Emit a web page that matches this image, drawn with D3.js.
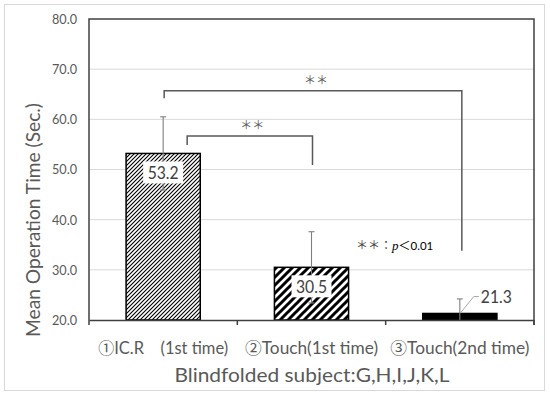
<!DOCTYPE html>
<html><head><meta charset="utf-8">
<script src="https://cdn.jsdelivr.net/npm/d3@7"></script>
<style>
body{margin:0;background:#fff;}
svg{display:block;font-family:Lato,"Noto Sans CJK JP",sans-serif;}
</style></head>
<body><svg id="c" width="550" height="396"></svg>
<script>
const circled = ["①", "②", "③"];
const categories = ["IC.R\u3000(1st time)", "Touch(1st time)", "Touch(2nd time)"];
const means = [53.2, 30.5, 21.3];
const errors = [7.3, 7.1, 2.9];
const patterns = ["thin", "wide", "solid"];
const yTicks = [20, 30, 40, 50, 60, 70, 80];
const brackets = [
  {from: 0, to: 2, fromOffset: 1, toOffset: 2, top: 65.7, leftEnd: 64.2, rightEnd: 33.8, label: "＊＊", labelAt: 0.51},
  {from: 0, to: 1, fromOffset: 24, toOffset: 1, top: 56.7, leftEnd: 54.9, rightEnd: 50.9, label: "＊＊", labelAt: 0.52}
];
const yTitle = "Mean Operation Time (Sec.)";
const xTitle = "Blindfolded subject:G,H,I,J,K,L";

const svg = d3.select("#c");
const M = {l: 89, r: 534, t: 19, b: 320};
const x = d3.scaleBand().domain(categories).range([M.l, M.r]);
const y = d3.scaleLinear().domain([20, 80]).range([M.b, M.t]);
const bw = x.bandwidth() * 0.5;
const cx = i => x(categories[i]) + x.bandwidth() / 2;
const fit = (sel, w) => sel.attr("textLength", w).attr("lengthAdjust", "spacingAndGlyphs");

// outer frame
svg.append("rect").attr("x", 4.5).attr("y", 4.5).attr("width", 540).attr("height", 386)
  .attr("fill", "#fff").attr("stroke", "#d9d9d9").attr("stroke-width", 1);

// patterns
const defs = svg.append("defs");
const p1 = defs.append("pattern").attr("id", "thin").attr("patternUnits", "userSpaceOnUse")
  .attr("width", 4).attr("height", 4);
p1.append("rect").attr("width", 4).attr("height", 4).attr("fill", "#fff");
p1.append("path").attr("d", "M-1,1 l2,-2 M0,4 l4,-4 M3,5 l2,-2").attr("stroke", "#000").attr("stroke-width", 1.1);
const p2 = defs.append("pattern").attr("id", "wide").attr("patternUnits", "userSpaceOnUse")
  .attr("width", 8).attr("height", 8);
p2.append("rect").attr("width", 8).attr("height", 8).attr("fill", "#fff");
p2.append("path").attr("d", "M-2,2 l4,-4 M0,8 l8,-8 M6,10 l4,-4").attr("stroke", "#000").attr("stroke-width", 3);

// gridlines
svg.append("g").selectAll("line").data(yTicks.filter(t => t > 20 && t < 80)).join("line")
  .attr("x1", M.l).attr("x2", M.r).attr("y1", d => y(d)).attr("y2", d => y(d))
  .attr("stroke", "#d9d9d9").attr("stroke-width", 1);

// y axis labels
const ya = svg.append("g").attr("transform", `translate(${M.l},0)`)
  .call(d3.axisLeft(y).tickValues(yTicks).tickFormat(d3.format(".1f")).tickSize(0).tickPadding(12));
ya.select(".domain").remove();
ya.selectAll("text").attr("font-size", 14).attr("fill", "#595959").attr("font-family", "Lato")
  .attr("textLength", 25).attr("lengthAdjust", "spacingAndGlyphs");

// bars
svg.append("g").selectAll("rect").data(means).join("rect")
  .attr("x", (d, i) => cx(i) - bw / 2).attr("width", bw)
  .attr("y", d => y(d)).attr("height", d => y(20) - y(d))
  .attr("fill", (d, i) => patterns[i] === "solid" ? "#000" : `url(#${patterns[i]})`)
  .attr("stroke", "#000").attr("stroke-width", 1.5);

// error bars
const eb = svg.append("g").attr("stroke", "#7f7f7f").attr("stroke-width", 1.1);
means.forEach((m, i) => {
  const lo = Math.max(20, m - errors[i]), hi = m + errors[i];
  eb.append("line").attr("x1", cx(i)).attr("x2", cx(i)).attr("y1", y(lo)).attr("y2", y(hi));
  eb.append("line").attr("x1", cx(i) - 3).attr("x2", cx(i) + 3).attr("y1", y(hi)).attr("y2", y(hi));
  if (m - errors[i] > 20)
    eb.append("line").attr("x1", cx(i) - 3).attr("x2", cx(i) + 3).attr("y1", y(lo)).attr("y2", y(lo));
});

// plot border
svg.append("path")
  .attr("d", `M${M.l},${M.b + 5} V${M.t} H${M.r} V${M.b + 5}`)
  .attr("fill", "none").attr("stroke", "#404040").attr("stroke-width", 1.5);
const xa = svg.append("g").attr("transform", `translate(0,${M.b})`)
  .call(d3.axisBottom(x).tickSize(0).tickFormat(""));
xa.select(".domain").attr("stroke", "#404040").attr("stroke-width", 1.5);
svg.append("g").selectAll("line").data(categories).join("line")
  .attr("x1", d => x(d) + x.bandwidth()).attr("x2", d => x(d) + x.bandwidth())
  .attr("y1", M.b).attr("y2", M.b + 5).attr("stroke", "#404040").attr("stroke-width", 1.5);

// data labels
means.forEach((m, i) => {
  if (i < 2) {
    const ty = y(m) + 19;
    svg.append("rect").attr("x", cx(i) - 20).attr("y", ty - 11).attr("width", 40).attr("height", 22).attr("fill", "#fff");
    fit(svg.append("text").attr("x", cx(i)).attr("y", ty).attr("dy", "0.35em").attr("text-anchor", "middle")
      .attr("font-size", 18).attr("fill", "#404040").text(m.toFixed(1)), 31);
  } else {
    const ty = y(m) - 17;
    svg.append("path").attr("d", `M${cx(i) + 1},${y(m) - 1} L${cx(i) + 14},${ty} H${cx(i) + 19}`)
      .attr("fill", "none").attr("stroke", "#a6a6a6").attr("stroke-width", 1);
    fit(svg.append("text").attr("x", cx(i) + 21).attr("y", ty).attr("dy", "0.35em")
      .attr("font-size", 18).attr("fill", "#404040").text(m.toFixed(1)), 31);
  }
});

// significance brackets
const bg = svg.append("g");
brackets.forEach(b => {
  const x1 = cx(b.from) + b.fromOffset, x2 = cx(b.to) + b.toOffset;
  bg.append("path").attr("d", `M${x1},${y(b.leftEnd)} V${y(b.top)} H${x2} V${y(b.rightEnd)}`)
    .attr("fill", "none").attr("stroke", "#595959").attr("stroke-width", 1.5);
  bg.append("text").attr("x", x1 + (x2 - x1) * b.labelAt).attr("y", y(b.top) - 6)
    .attr("text-anchor", "middle").attr("font-size", 12).attr("fill", "#595959")
    .attr("font-family", "'Noto Sans CJK JP'").text(b.label);
});

// p legend
const lg = svg.append("text").attr("x", 356).attr("y", 250).attr("font-size", 12).attr("fill", "#000");
lg.append("tspan").attr("font-family", "'Noto Sans CJK JP'").attr("fill", "#404040").text("＊＊：");
lg.append("tspan").attr("font-style", "italic").attr("font-family", "'Liberation Serif'").attr("font-size", 13).text("p");
lg.append("tspan").attr("font-family", "'Noto Sans CJK JP'").text("＜");
lg.append("tspan").attr("font-size", 11.5).text("0.01");

// category labels
const catW = [130, 133, 139];
categories.forEach((c, i) => {
  const t = svg.append("text").attr("x", cx(i)).attr("y", 354).attr("text-anchor", "middle")
    .attr("font-size", 16.5).attr("fill", "#595959");
  t.append("tspan").attr("font-family", "'Noto Sans CJK JP'").attr("font-size", 16).text(circled[i]);
  t.append("tspan").text(c);
  fit(t, catW[i]);
});

// axis titles
fit(svg.append("text").attr("x", 312).attr("y", 382).attr("text-anchor", "middle")
  .attr("font-size", 20).attr("fill", "#595959").text(xTitle), 275);
fit(svg.append("text").attr("transform", "translate(40,220) rotate(-90)").attr("text-anchor", "middle")
  .attr("font-size", 19).attr("fill", "#595959").text(yTitle), 234);
</script></body></html>
